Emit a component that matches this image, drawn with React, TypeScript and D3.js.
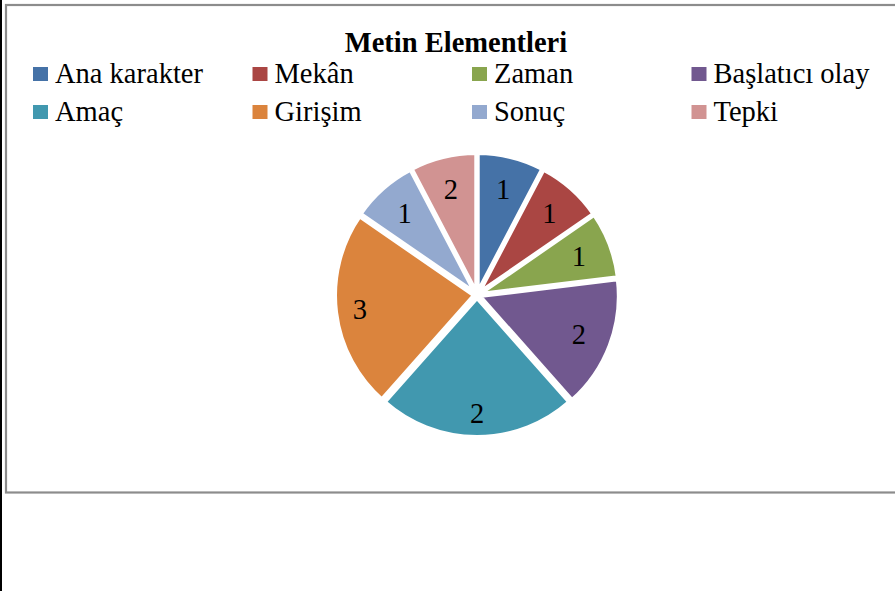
import React from "react";
import * as d3 from "d3";

const categories = ["Ana karakter", "Mekân", "Zaman", "Başlatıcı olay", "Amaç", "Girişim", "Sonuç", "Tepki"];
const sliceValues = [1, 1, 1, 2, 3, 3, 1, 1];
const dataLabels = ["1", "1", "1", "2", "2", "3", "1", "2"];
const colors = ["#4572A7", "#AA4643", "#89A54E", "#71588F", "#4198AF", "#DB843D", "#93A9CF", "#D19392"];
const title = "Metin Elementleri";

const W = 895;
const H = 591;
const FONT = "'Liberation Serif', 'Times New Roman', serif";

export default function App() {
  const cx = 477;
  const cy = 295;
  const R = 139;
  const explode = 3;
  const pie = d3.pie<number>().sort(null).value((d) => d)(sliceValues);
  const arc = d3.arc<d3.PieArcDatum<number>>().innerRadius(0).outerRadius(R);
  const smallLabelArc = d3.arc<d3.PieArcDatum<number>>().innerRadius(109).outerRadius(109);
  const bigLabelArc = d3.arc<d3.PieArcDatum<number>>().innerRadius(118).outerRadius(118);

  const legendX = d3.scaleLinear().domain([0, 1]).range([55, 274.5]);
  const legendY = d3.scaleLinear().domain([0, 1]).range([83, 121]);

  return (
    <svg width={W} height={H} style={{ position: "absolute", left: 0, top: 0, background: "#fff" }}>
      <rect x={0} y={0} width={W} height={H} fill="#fff" />
      <rect x={0} y={0} width={2} height={H} fill="#000" />
      <rect x={6} y={5} width={W + 10} height={487.5} fill="#fff" stroke="#8c8c8c" strokeWidth={2.2} />
      <text x={456} y={52} textAnchor="middle" fontFamily={FONT} fontWeight="bold" fontSize={28.5} fill="#000">
        {title}
      </text>
      {categories.map((c, i) => {
        const col = i % 4;
        const row = Math.floor(i / 4);
        const tx = legendX(col);
        const ty = legendY(row);
        return (
          <g key={c}>
            <rect x={tx - 22} y={ty - 16} width={15} height={14} fill={colors[i]} />
            <text x={tx} y={ty} fontFamily={FONT} fontSize={28.5} fill="#000">
              {c}
            </text>
          </g>
        );
      })}
      <g transform={`translate(${cx},${cy})`}>
        {pie.map((p, i) => {
          const mid = (p.startAngle + p.endAngle) / 2;
          const dx = Math.sin(mid) * explode;
          const dy = -Math.cos(mid) * explode;
          return (
            <path
              key={i}
              d={arc(p) || ""}
              transform={`translate(${dx},${dy})`}
              fill={colors[i]}
              stroke="#fff"
              strokeWidth={4}
              strokeLinejoin="miter"
            />
          );
        })}
        {pie.map((p, i) => {
          const la = p.endAngle - p.startAngle > 1 ? bigLabelArc : smallLabelArc;
          const [lx, ly] = la.centroid(p);
          return (
            <text
              key={"l" + i}
              x={lx}
              y={ly}
              dy="0.35em"
              textAnchor="middle"
              fontFamily={FONT}
              fontSize={28.5}
              fill="#000"
            >
              {dataLabels[i]}
            </text>
          );
        })}
      </g>
    </svg>
  );
}
